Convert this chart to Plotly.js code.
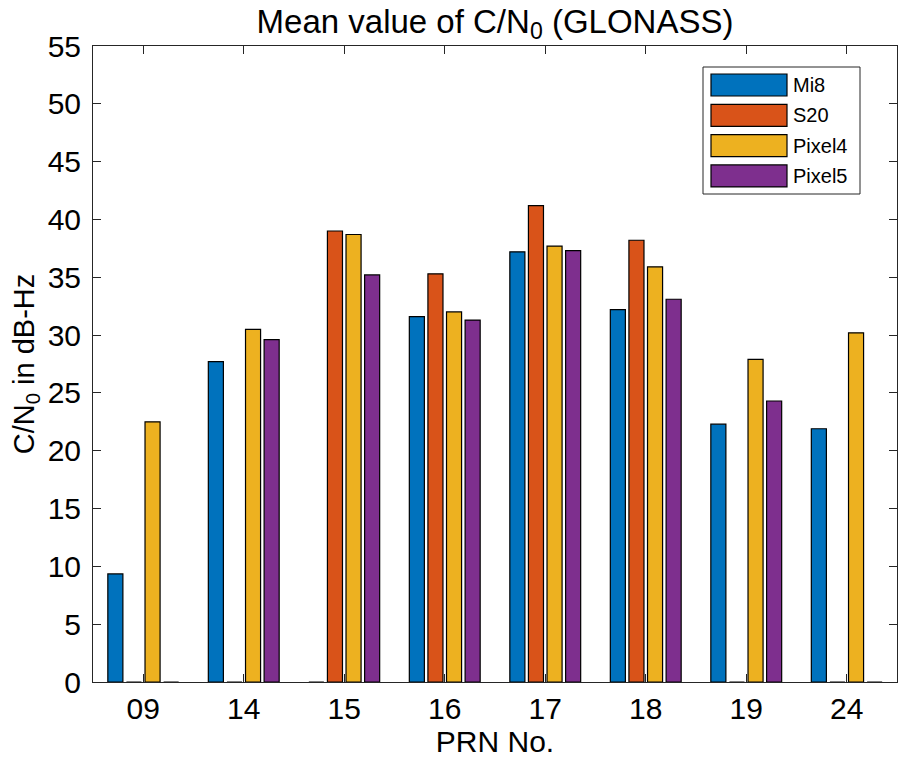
<!DOCTYPE html>
<html>
<head>
<meta charset="utf-8">
<script src="https://cdn.plot.ly/plotly-3.0.1.min.js"></script>
<style>
  html, body { margin: 0; padding: 0; background: #ffffff; }
  #grafica { width: 898px; height: 770px; }
</style>
</head>
<body>
<div id="grafica"></div>
<script>
// Datos (C/N0 medio por satelite GLONASS)
const prn = ["09", "14", "15", "16", "17", "18", "19", "24"];
const mi8    = [9.35, 27.7, 0,    31.6, 37.2, 32.2, 22.3, 21.9];
const s20    = [0,    0,    39.0, 35.3, 41.2, 38.2, 0,    0];
const pixel4 = [22.5, 30.5, 38.7, 32.0, 37.7, 35.9, 27.9, 30.2];
const pixel5 = [0,    29.6, 35.2, 31.3, 37.3, 33.1, 24.3, 0];

const nombres = ["Mi8", "S20", "Pixel4", "Pixel5"];
const colores = ["#0072BD", "#D95319", "#EDB120", "#7E2F8E"];
const series  = [mi8, s20, pixel4, pixel5];

const FUENTE = "Liberation Sans, Arial, Helvetica, sans-serif";
const GRIS = "#262626";

// area de ejes en pixeles (para la leyenda hecha a mano)
const W = 898, H = 770;
const M = { l: 93, r: 1, t: 46, b: 88 };
const px2x = px => (px - M.l) / (W - M.l - M.r);
const py2y = py => (H - M.b - py) / (H - M.t - M.b);

const traces = series.map((vals, i) => ({
  type: "bar",
  name: nombres[i],
  x: prn,
  y: vals,
  marker: { color: colores[i], line: { color: "#000000", width: 1.2 } },
  showlegend: false,
  hoverinfo: "x+y+name"
}));

// ── leyenda estilo MATLAB ────────────────────────────────
const shapes = [{
  type: "rect", xref: "paper", yref: "paper",
  x0: px2x(703), x1: px2x(860), y0: py2y(194), y1: py2y(67),
  line: { color: GRIS, width: 1 }, fillcolor: "#ffffff"
}];
const annotations = [];
nombres.forEach((n, i) => {
  const top = 74 + 30.3 * i;
  shapes.push({
    type: "rect", xref: "paper", yref: "paper",
    x0: px2x(711), x1: px2x(787), y0: py2y(top + 22), y1: py2y(top),
    line: { color: "#000000", width: 1.2 }, fillcolor: colores[i]
  });
  annotations.push({
    xref: "paper", yref: "paper", x: px2x(791), y: py2y(top + 11),
    xanchor: "left", yanchor: "middle", showarrow: false,
    text: n, font: { family: FUENTE, size: 20, color: "#000000" }
  });
});

const layout = {
  width: W, height: H,
  margin: M,
  paper_bgcolor: "#ffffff",
  plot_bgcolor: "#ffffff",
  font: { family: FUENTE, color: GRIS },
  title: {
    text: "Mean value of C/N<sub>0</sub> (GLONASS)",
    font: { family: FUENTE, size: 33, color: "#000000" },
    x: 0.5, xref: "paper", y: 1 - 21 / H, yanchor: "middle"
  },
  barmode: "group",
  bargap: 0.26,
  bargroupgap: 0.19,
  xaxis: {
    type: "category",
    range: [-0.5, 7.5],
    showline: true, linecolor: GRIS, linewidth: 1, mirror: "ticks",
    ticks: "inside", ticklen: 8, tickcolor: GRIS,
    tickfont: { family: FUENTE, size: 30, color: "#000000" },
    showgrid: false, zeroline: false,
    title: { text: "PRN No.", font: { family: FUENTE, size: 30, color: "#000000" }, standoff: 6 }
  },
  yaxis: {
    range: [0, 55],
    tickvals: [0, 5, 10, 15, 20, 25, 30, 35, 40, 45, 50, 55],
    showline: true, linecolor: GRIS, linewidth: 1, mirror: "ticks",
    ticks: "inside", ticklen: 8, tickcolor: GRIS,
    ticklabelstandoff: 5,
    tickfont: { family: FUENTE, size: 30, color: "#000000" },
    showgrid: false, zeroline: false,
    title: { text: "C/N<sub>0</sub> in dB-Hz", font: { family: FUENTE, size: 29, color: "#000000" }, standoff: 4 }
  },
  shapes: shapes,
  annotations: annotations
};

Plotly.newPlot("grafica", traces, layout, { displayModeBar: false, staticPlot: true });
</script>
</body>
</html>
